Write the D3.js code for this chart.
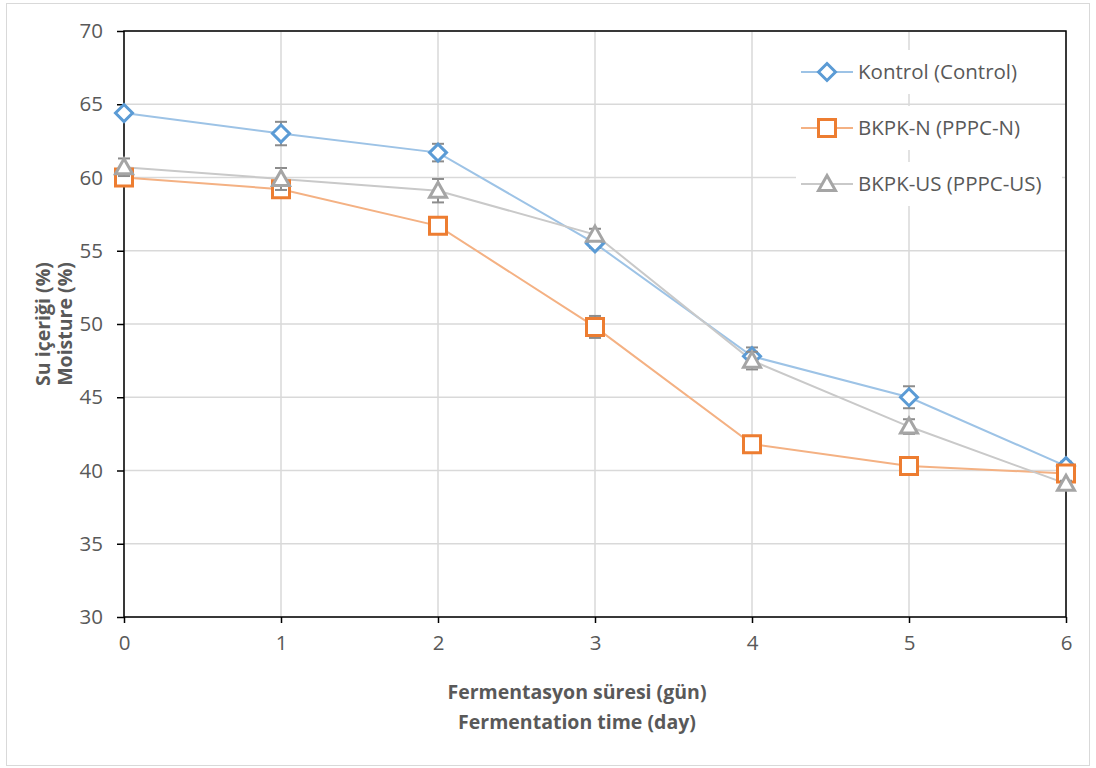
<!DOCTYPE html>
<html>
<head>
<meta charset="utf-8">
<script src="https://cdn.jsdelivr.net/npm/d3@7"></script>
<style>
  body { margin: 0; background: #fff; }
  text { font-family: "Open Sans", "Liberation Sans", sans-serif; }
</style>
</head>
<body>
<script>
// data
var days = [0, 1, 2, 3, 4, 5, 6];
var kontrol = [64.4, 63.0, 61.7, 55.5, 47.8, 45.0, 40.3];
var kontrolErr = [0.15, 0.8, 0.6, 0.3, 0.6, 0.75, 0.3];
var bkpkN = [60.0, 59.2, 56.7, 49.8, 41.8, 40.3, 39.8];
var bkpkNErr = [0.2, 0.55, 0.2, 0.75, 0.2, 0.2, 0.3];
var bkpkUS = [60.7, 59.9, 59.1, 56.1, 47.5, 43.0, 39.1];
var bkpkUSErr = [0.6, 0.75, 0.8, 0.4, 0.6, 0.5, 0.2];
var yTicks = [30, 35, 40, 45, 50, 55, 60, 65, 70];
var seriesNames = ["Kontrol (Control)", "BKPK-N (PPPC-N)", "BKPK-US (PPPC-US)"];

var series = [
  {name: seriesNames[0], vals: kontrol, err: kontrolErr, marker: "diamond", color: "#5b9bd5", line: "#9dc3e6"},
  {name: seriesNames[1], vals: bkpkN, err: bkpkNErr, marker: "square", color: "#ed7d31", line: "#f4b183"},
  {name: seriesNames[2], vals: bkpkUS, err: bkpkUSErr, marker: "triangle", color: "#a5a5a5", line: "#c9c9c9"}
];

var W = 1096, H = 768;
var margin = {left: 124, right: 30, top: 31, bottom: 151};

var svg = d3.select("body").append("svg").attr("width", W).attr("height", H);

svg.append("rect").attr("x", 6.5).attr("y", 3.5).attr("width", 1083).attr("height", 762)
  .attr("fill", "#fff").attr("stroke", "#d9d9d9").attr("stroke-width", 1);

var x = d3.scaleLinear().domain([0, 6]).range([margin.left, W - margin.right]);
var y = d3.scaleLinear().domain([30, 70]).range([H - margin.bottom, margin.top]);

// grid
svg.append("g").selectAll("line").data(yTicks).enter().append("line")
  .attr("x1", x(0)).attr("x2", x(6)).attr("y1", d => y(d)).attr("y2", d => y(d))
  .attr("stroke", "#d9d9d9").attr("stroke-width", 1.5);
svg.append("g").selectAll("line").data(days).enter().append("line")
  .attr("x1", d => x(d)).attr("x2", d => x(d)).attr("y1", y(30)).attr("y2", y(70))
  .attr("stroke", "#d9d9d9").attr("stroke-width", 1.5);

// axes
var yAxis = svg.append("g").attr("transform", "translate(" + x(0) + ",0)")
  .call(d3.axisLeft(y).tickValues(yTicks).tickSize(7).tickPadding(14));
var xAxis = svg.append("g").attr("transform", "translate(0," + y(30) + ")")
  .call(d3.axisBottom(x).tickValues(days).tickSize(6).tickFormat(d3.format("d")).tickPadding(12));
[yAxis, xAxis].forEach(a => {
  a.select(".domain").remove();
  a.selectAll("line").attr("stroke", "#000").attr("stroke-width", 1.5);
  a.selectAll("text").attr("fill", "#595959").style("font-size", "20.5px");
});

// plot frame
svg.append("rect").attr("x", x(0)).attr("y", y(70)).attr("width", x(6) - x(0)).attr("height", y(30) - y(70))
  .attr("fill", "none").attr("stroke", "#000").attr("stroke-width", 1.5);

function markerPath(type) {
  if (type == "diamond") return "M0,-8.5L8.5,0L0,8.5L-8.5,0Z";
  if (type == "square") return "M-8.5,-8.5L8.5,-8.5L8.5,8.5L-8.5,8.5Z";
  return "M0,-8.5L8.5,6.5L-8.5,6.5Z";
}

var line = d3.line().x((d, i) => x(days[i])).y(d => y(d));

series.forEach(s => {
  svg.append("path").datum(s.vals).attr("d", line)
    .attr("fill", "none").attr("stroke", s.line).attr("stroke-width", 2);
});

series.forEach(s => {
  var g = svg.append("g");
  s.vals.forEach((v, i) => {
    var cx = x(days[i]), y1 = y(v + s.err[i]), y2 = y(v - s.err[i]);
    g.append("line").attr("x1", cx).attr("x2", cx).attr("y1", y1).attr("y2", y2)
      .attr("stroke", "#8c8c8c").attr("stroke-width", 2);
    [y1, y2].forEach(yy => g.append("line").attr("x1", cx - 6).attr("x2", cx + 6).attr("y1", yy).attr("y2", yy)
      .attr("stroke", "#8c8c8c").attr("stroke-width", 2));
  });
  g.selectAll("path").data(s.vals).enter().append("path")
    .attr("d", markerPath(s.marker))
    .attr("transform", (d, i) => "translate(" + x(days[i]) + "," + y(d) + ")")
    .attr("fill", "#fff").attr("stroke", s.color).attr("stroke-width", 3);
});

// legend
var leg = svg.append("g");
series.forEach((s, i) => {
  var ly = 72 + i * 56;
  leg.append("rect").attr("x", 796).attr("y", ly - 22).attr("width", 266).attr("height", 44).attr("fill", "#fff");
  leg.append("line").attr("x1", 801).attr("x2", 853).attr("y1", ly).attr("y2", ly)
    .attr("stroke", s.line).attr("stroke-width", 2);
  leg.append("path").attr("d", markerPath(s.marker)).attr("transform", "translate(827," + ly + ")")
    .attr("fill", "#fff").attr("stroke", s.color).attr("stroke-width", 3);
  leg.append("text").attr("x", 858).attr("y", ly).attr("dy", "0.35em")
    .attr("fill", "#595959").style("font-size", "20.5px").text(s.name);
});

// axis titles
var tstyle = t => t.attr("fill", "#595959").attr("text-anchor", "middle")
  .style("font-size", "19.5px").style("font-weight", "bold");
svg.append("text").attr("x", 577).attr("y", 699).call(tstyle).text("Fermentasyon süresi (gün)");
svg.append("text").attr("x", 577).attr("y", 729).call(tstyle).text("Fermentation time (day)");
svg.append("text").attr("transform", "translate(50,324) rotate(-90)").call(tstyle).text("Su içeriği (%)");
svg.append("text").attr("transform", "translate(72,324) rotate(-90)").call(tstyle).text("Moisture (%)");
</script>
</body>
</html>
